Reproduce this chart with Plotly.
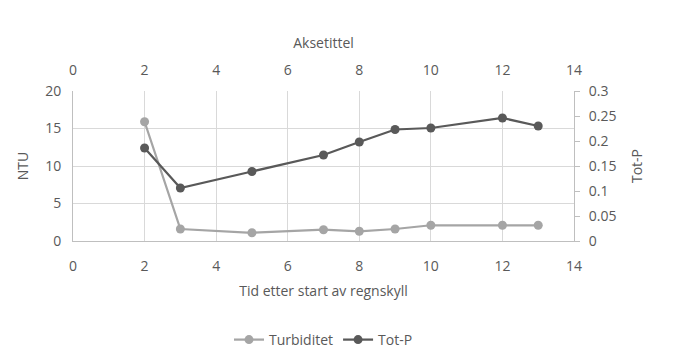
import plotly.graph_objects as go

# Hours after start of rainfall
tid = [2, 3, 5, 7, 8, 9, 10, 12, 13]
turbiditet = [15.9, 1.6, 1.1, 1.5, 1.3, 1.6, 2.1, 2.1, 2.1]
tot_p = [0.186, 0.106, 0.139, 0.172, 0.198, 0.223, 0.226, 0.246, 0.230]

FONT = "Open Sans"
TXT = "#595959"
GRID = "#D9D9D9"
AXIS = "#BFBFBF"
FS = 14

fig = go.Figure()
fig.add_trace(go.Scatter(
    x=tid, y=turbiditet, name="Turbiditet", mode="lines+markers",
    line=dict(color="#A5A5A5", width=2.25),
    marker=dict(color="#A5A5A5", size=9),
    xaxis="x", yaxis="y",
))
fig.add_trace(go.Scatter(
    x=tid, y=tot_p, name="Tot-P", mode="lines+markers",
    line=dict(color="#595959", width=2.25),
    marker=dict(color="#595959", size=9),
    xaxis="x2", yaxis="y2",
))

fig.update_layout(
    width=681, height=352,
    margin=dict(l=73, r=107, t=91, b=111),
    paper_bgcolor="white", plot_bgcolor="white",
    font=dict(family=FONT, size=FS, color=TXT),
    showlegend=True,
    legend=dict(orientation="h", x=0.5, xanchor="center",
                yref="container", y=12 / 352, yanchor="middle",
                font=dict(size=FS, color=TXT)),
    xaxis=dict(
        range=[0, 14], dtick=2, tick0=0, automargin=False,
        showgrid=True, gridcolor=GRID, gridwidth=1,
        showline=True, linecolor=AXIS, linewidth=1,
        zeroline=False, ticks="", ticklabelstandoff=12,
        title=dict(text="Tid etter start av regnskyll", font=dict(size=FS, color=TXT), standoff=12),
        tickfont=dict(size=FS, color=TXT),
    ),
    xaxis2=dict(
        range=[0, 14], dtick=2, tick0=0, overlaying="x", side="top", automargin=False,
        showgrid=False, showline=False, zeroline=False, ticks="", ticklabelstandoff=12,
        title=dict(text="Aksetittel", font=dict(size=FS, color=TXT), standoff=8),
        tickfont=dict(size=FS, color=TXT),
    ),
    yaxis=dict(
        range=[0, 20], dtick=5, automargin=False,
        showgrid=True, gridcolor=GRID, gridwidth=1,
        showline=True, linecolor=AXIS, linewidth=1,
        zeroline=False, ticks="", ticklabelstandoff=8,
        title=dict(text="NTU", font=dict(size=FS, color=TXT), standoff=13),
        tickfont=dict(size=FS, color=TXT),
    ),
    yaxis2=dict(
        range=[0, 0.3], dtick=0.05, overlaying="y", side="right", automargin=False,
        showgrid=False, showline=True, linecolor=AXIS, linewidth=1,
        zeroline=False, ticks="outside", ticklen=5, tickcolor=AXIS, ticklabelstandoff=6,
        title=dict(text="Tot-P", font=dict(size=FS, color=TXT), standoff=16),
        tickfont=dict(size=FS, color=TXT),
    ),
)

fig.write_html("out.html")
